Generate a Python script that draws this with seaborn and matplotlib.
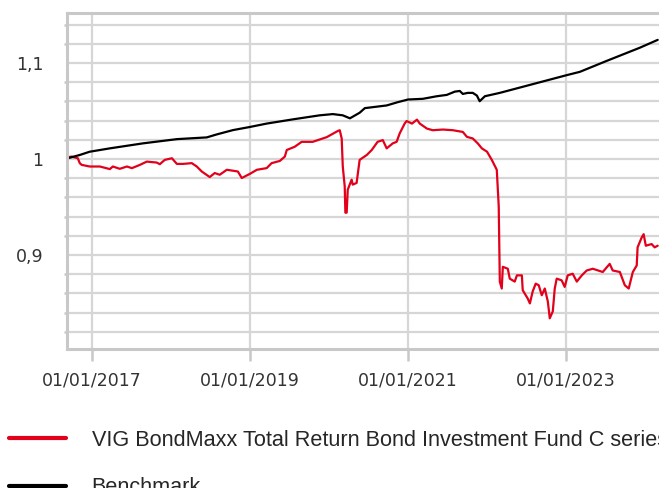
import matplotlib
matplotlib.use("Agg")
import matplotlib.pyplot as plt
import matplotlib.dates as mdates
from matplotlib.ticker import FixedLocator, MultipleLocator, FixedFormatter
from matplotlib.lines import Line2D
import seaborn as sns
import pandas as pd

# ---------------- data ----------------
fund_name = "VIG BondMaxx Total Return Bond Investment Fund C series"
bench_name = "Benchmark"

fund_dates = [
    "2016-09-11", "2016-09-29", "2016-10-27", "2016-11-05", "2016-11-14", "2016-12-21",
    "2017-02-06", "2017-03-24", "2017-04-07", "2017-05-09", "2017-06-11", "2017-07-04",
    "2017-08-10", "2017-09-11", "2017-10-27", "2017-11-10", "2017-12-03", "2018-01-05",
    "2018-01-28", "2018-02-24", "2018-04-07", "2018-04-30", "2018-05-23", "2018-06-29",
    "2018-07-22", "2018-08-14", "2018-09-16", "2018-11-06", "2018-11-24", "2019-01-01",
    "2019-02-02", "2019-03-19", "2019-04-11", "2019-05-19", "2019-06-11", "2019-06-20",
    "2019-07-27", "2019-08-28", "2019-10-18", "2019-12-22", "2020-02-11", "2020-02-20",
    "2020-02-29", "2020-03-05", "2020-03-14", "2020-03-17", "2020-03-23", "2020-03-28",
    "2020-04-15", "2020-04-20", "2020-05-08", "2020-05-22", "2020-06-24", "2020-07-17",
    "2020-08-13", "2020-09-06", "2020-09-24", "2020-10-22", "2020-11-09", "2020-11-23",
    "2020-12-16", "2020-12-25", "2021-01-19", "2021-02-11", "2021-02-24", "2021-03-29",
    "2021-04-25", "2021-06-11", "2021-07-27", "2021-09-11", "2021-09-30", "2021-10-27",
    "2021-11-19", "2021-12-08", "2022-01-01", "2022-01-23", "2022-02-15", "2022-02-24",
    "2022-03-01", "2022-03-10", "2022-03-15", "2022-04-07", "2022-04-16", "2022-05-09",
    "2022-05-19", "2022-06-11", "2022-06-15", "2022-07-08", "2022-07-18", "2022-07-31",
    "2022-08-14", "2022-08-28", "2022-09-11", "2022-09-25", "2022-10-09", "2022-10-18",
    "2022-11-01", "2022-11-10", "2022-11-19", "2022-12-12", "2022-12-26", "2023-01-09",
    "2023-02-01", "2023-02-20", "2023-03-15", "2023-04-07", "2023-05-05", "2023-06-20",
    "2023-07-22", "2023-08-05", "2023-09-07", "2023-09-30", "2023-10-18", "2023-11-06",
    "2023-11-24", "2023-11-28", "2023-12-17", "2023-12-26", "2024-01-05", "2024-02-01",
    "2024-02-15", "2024-02-29",
]
fund_values = [
    1.0018, 1.0024, 1.0007, 0.9956, 0.9938, 0.9921,
    0.9921, 0.9894, 0.9921, 0.9897, 0.9921, 0.9904,
    0.9938, 0.9972, 0.9962, 0.9945, 0.9990, 1.0007,
    0.9948, 0.9948, 0.9956, 0.9921, 0.9869, 0.9811,
    0.9853, 0.9835, 0.9887, 0.9869, 0.9801, 0.9845,
    0.9887, 0.9904, 0.9956, 0.9979, 1.0024, 1.0093,
    1.0127, 1.0178, 1.0178, 1.0227, 1.0291, 1.0299,
    1.0213, 0.9921, 0.9714, 0.9440, 0.9440, 0.9680,
    0.9784, 0.9732, 0.9750, 0.9990, 1.0041, 1.0093,
    1.0178, 1.0196, 1.0110, 1.0162, 1.0178, 1.0265,
    1.0368, 1.0395, 1.0368, 1.0409, 1.0368, 1.0316,
    1.0299, 1.0306, 1.0299, 1.0281, 1.0230, 1.0213,
    1.0162, 1.0110, 1.0075, 0.9990, 0.9887, 0.9508,
    0.8722, 0.8650, 0.8876, 0.8856, 0.8753, 0.8722,
    0.8787, 0.8787, 0.8632, 0.8546, 0.8495, 0.8619,
    0.8701, 0.8684, 0.8580, 0.8650, 0.8515, 0.8340,
    0.8412, 0.8650, 0.8753, 0.8735, 0.8667, 0.8787,
    0.8804, 0.8722, 0.8787, 0.8838, 0.8856, 0.8822,
    0.8907, 0.8838, 0.8822, 0.8684, 0.8650, 0.8822,
    0.8890, 0.9079, 0.9182, 0.9216, 0.9096, 0.9113,
    0.9079, 0.9096,
]

bench_dates = [
    "2016-09-11", "2016-11-05", "2016-12-21", "2017-03-24", "2017-08-24", "2018-01-28",
    "2018-05-14", "2018-06-15", "2018-07-31", "2018-10-14", "2019-01-01", "2019-03-19",
    "2019-07-18", "2019-11-19", "2020-01-19", "2020-03-05", "2020-04-07", "2020-05-22",
    "2020-06-15", "2020-09-24", "2020-11-14", "2021-01-01", "2021-03-10", "2021-05-14",
    "2021-06-29", "2021-08-05", "2021-08-28", "2021-09-11", "2021-10-04", "2021-10-27",
    "2021-11-15", "2021-11-28", "2021-12-22", "2022-03-01", "2023-01-05", "2023-03-06",
    "2023-07-08", "2023-12-08", "2024-02-29",
]
bench_values = [
    1.0007, 1.0041, 1.0075, 1.0110, 1.0162, 1.0206,
    1.0220, 1.0224, 1.0255, 1.0300, 1.0333, 1.0368,
    1.0412, 1.0454, 1.0467, 1.0454, 1.0423, 1.0481,
    1.0529, 1.0557, 1.0591, 1.0619, 1.0626, 1.0653,
    1.0667, 1.0701, 1.0708, 1.0677, 1.0688, 1.0688,
    1.0660, 1.0601, 1.0653, 1.0688, 1.0873, 1.0907,
    1.1021, 1.1158, 1.1240,
]

x_tick_dates = ["2017-01-01", "2019-01-01", "2021-01-01", "2023-01-01"]
y_tick_values = [0.9, 1.0, 1.1]
y_tick_labels = ["0,9", "1", "1,1"]
x_range = ["2016-09-07", "2024-03-06"]
y_range = [0.802, 1.152]

# ---------------- build table ----------------
df = pd.concat([
    pd.DataFrame({"date": pd.to_datetime(fund_dates), "value": fund_values, "series": fund_name}),
    pd.DataFrame({"date": pd.to_datetime(bench_dates), "value": bench_values, "series": bench_name}),
], ignore_index=True)

sns.set_style("white")
plt.rcParams["font.family"] = ["DejaVu Sans"]

W, H = 659, 488
fig = plt.figure(figsize=(W / 100, H / 100), dpi=100)
ax = fig.add_axes([67 / W, 1 - 349 / H, 1 - 67 / W, (349 - 13) / H])

palette = {fund_name: "#e2001a", bench_name: "#000000"}
sns.lineplot(data=df, x="date", y="value", hue="series", palette=palette,
             estimator=None, sort=True, linewidth=1.6, legend=False, ax=ax)

grid_c = "#d6d6d6"
spine_c = "#c8c8c8"

ax.set_xlim(pd.to_datetime(x_range[0]), pd.to_datetime(x_range[1]))
ax.set_ylim(*y_range)

ax.xaxis.set_major_locator(FixedLocator(mdates.date2num(pd.to_datetime(x_tick_dates))))
ax.xaxis.set_major_formatter(mdates.DateFormatter("%d/%m/%Y"))
ax.yaxis.set_major_locator(FixedLocator(y_tick_values))
ax.yaxis.set_major_formatter(FixedFormatter(y_tick_labels))
ax.yaxis.set_minor_locator(MultipleLocator(0.02))

ax.set_xlabel("")
ax.set_ylabel("")

ax.grid(which="major", axis="x", color=grid_c, linewidth=1.6)
ax.grid(which="both", axis="y", color=grid_c, linewidth=1.6)
ax.set_axisbelow(True)

for side in ["left", "bottom", "top"]:
    ax.spines[side].set_color(spine_c)
    ax.spines[side].set_linewidth(2.2)
ax.spines["right"].set_visible(False)

ax.tick_params(axis="y", which="major", length=8, width=1.8, color=spine_c,
               labelsize=12.5, labelcolor="#333333", pad=9)
ax.tick_params(axis="y", which="minor", length=2.5, width=1.8, color=spine_c, left=True)
ax.tick_params(axis="x", which="major", length=8.5, width=1.8, color=spine_c,
               labelsize=12.5, labelcolor="#333333", pad=8, bottom=True)

# legend below the plot (the reference crops it at the right and bottom edges)
h = [Line2D([], [], color=palette[fund_name], linewidth=3),
     Line2D([], [], color=palette[bench_name], linewidth=3)]
fig.legend(h, [fund_name, bench_name], loc="upper left",
           bbox_to_anchor=(9 / W, 1 - 430 / H), frameon=False,
           prop={"family": "Liberation Sans", "size": 15.6},
           handlelength=2.62, handletextpad=1.19, labelspacing=1.22,
           borderpad=0, borderaxespad=0)

fig.savefig("out.png", dpi=100)
